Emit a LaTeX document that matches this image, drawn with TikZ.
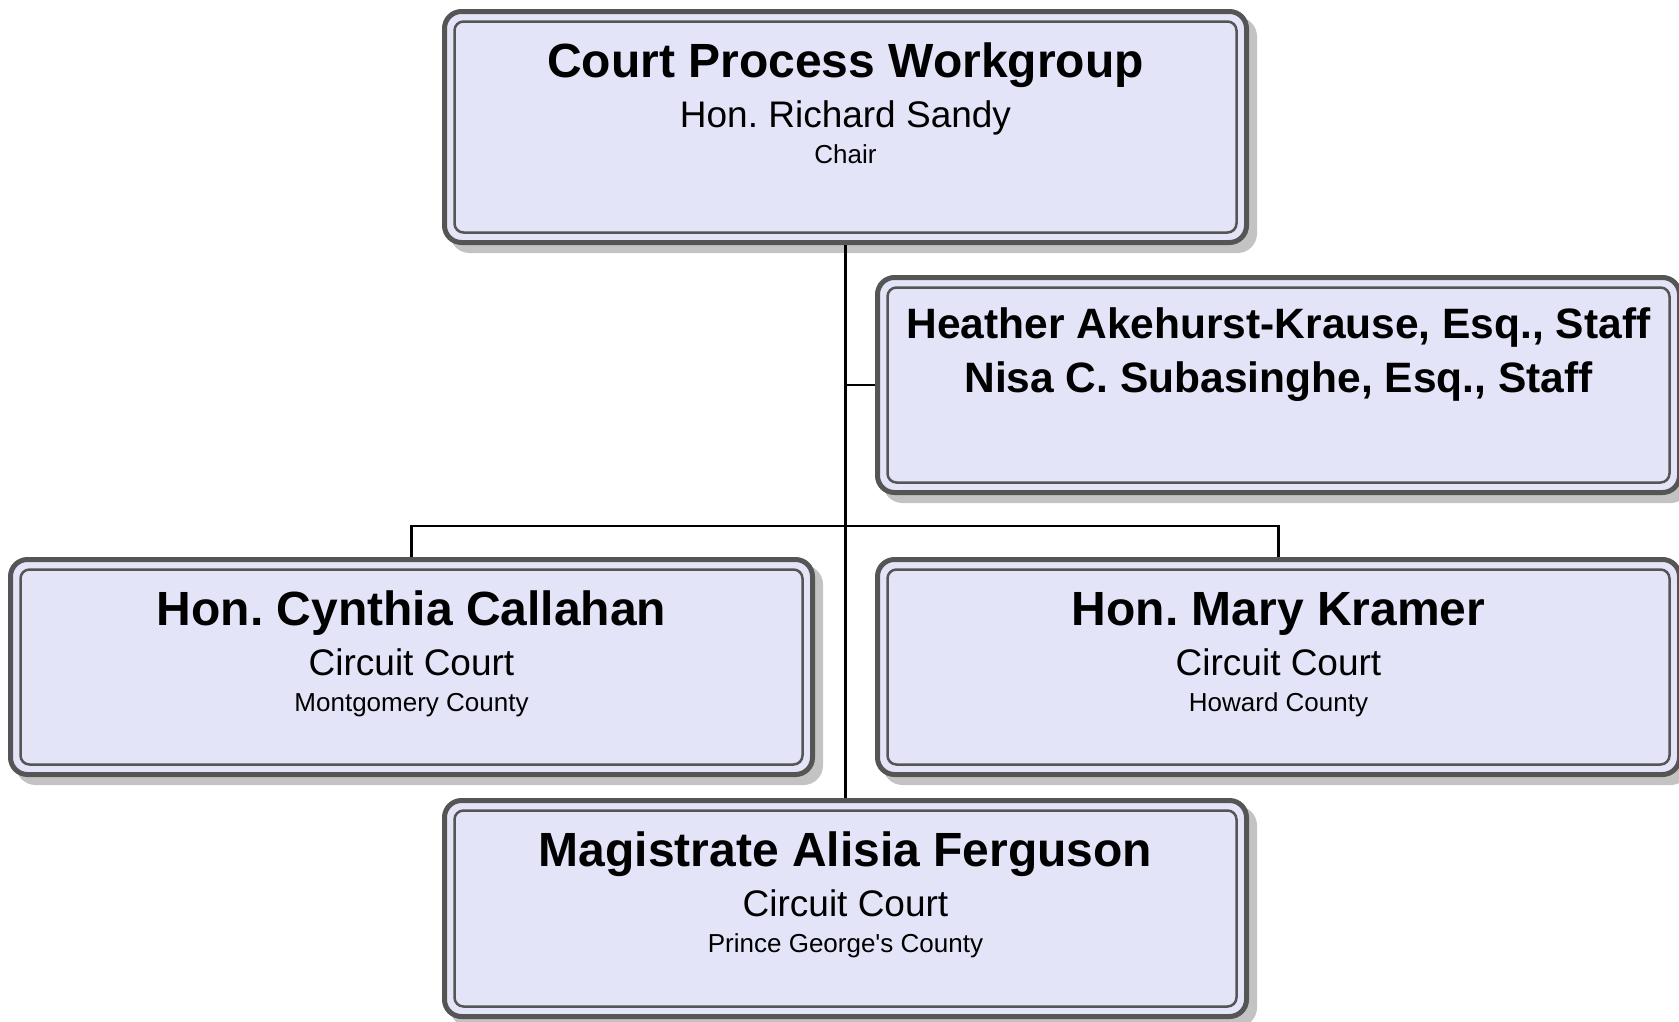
\documentclass[tikz,border=0pt]{standalone}
\usepackage{fontspec}
\setmainfont{Liberation Sans}
\usetikzlibrary{shadows}
\definecolor{boxfill}{RGB}{228,228,248}
\definecolor{boxline}{RGB}{85,85,85}
\definecolor{shadowc}{RGB}{195,195,195}
\tikzset{
  orgbox/.style={draw=boxline, line width=5pt, fill=boxfill, rounded corners=17pt,
    minimum width=802pt, minimum height=215pt, inner sep=0pt,
    drop shadow={shadow xshift=8pt, shadow yshift=-8pt, fill=shadowc, draw=shadowc, line width=5pt, opacity=1}},
  innerline/.style={draw=boxline, line width=2.5pt, rounded corners=9pt},
  conn/.style={draw=black, line width=2.5pt},
  nametext/.style={anchor=base, inner sep=0pt, font=\fontsize{48}{58}\selectfont\bfseries},
  stafftext/.style={anchor=base, inner sep=0pt, font=\fontsize{42.5}{50}\selectfont\bfseries},
  roletext/.style={anchor=base, inner sep=0pt, font=\fontsize{37}{44}\selectfont},
  placetext/.style={anchor=base, inner sep=0pt, font=\fontsize{26}{31}\selectfont},
}
\newcommand{\innerframe}[1]{\draw[innerline] ([xshift=12.5pt,yshift=-12.5pt]#1.north west) rectangle ([xshift=-12.5pt,yshift=12.5pt]#1.south east);}
\frenchspacing
\begin{document}
\begin{tikzpicture}[x=1pt,y=-1pt]
\useasboundingbox (0,0) rectangle (1679,1021);
% boxes
\node[orgbox, minimum height=231pt] (top) at (845.5,127) {};
\node[orgbox] (staff) at (1278.5,385) {};
\node[orgbox] (left) at (411.5,667) {};
\node[orgbox] (right) at (1278.5,667) {};
\node[orgbox, minimum height=216pt] (bot) at (845.5,908.5) {};
\innerframe{top}
\innerframe{staff}
\innerframe{left}
\innerframe{right}
\innerframe{bot}
% connectors
\coordinate (bar) at (845.5,526);
\draw[conn] (top.south) -- (bot.north);
\draw[conn] (top.south |- staff.west) -- (staff.west);
\draw[conn] (left.north) |- (bar) -| (right.north);
% texts
\node[nametext] (t1) at (845.5,77) {Court Process Workgroup};
\node[roletext] (t2) at (845.5,127) {Hon. Richard Sandy};
\node[placetext] (t3) at (845.5,163) {Chair};
\node[stafftext] (s1) at (1278.5,338) {Heather Akehurst-Krause, Esq., Staff};
\node[stafftext] (s2) at (1278.5,392) {Nisa C. Subasinghe, Esq., Staff};
\node[nametext] (l1) at (411.5,625) {Hon. Cynthia Callahan};
\node[roletext] (l2) at (411.5,675) {Circuit Court};
\node[placetext] (l3) at (411.5,711) {Montgomery County};
\node[nametext] (r1) at (1278.5,625) {Hon. Mary Kramer};
\node[roletext] (r2) at (1278.5,675) {Circuit Court};
\node[placetext] (r3) at (1278.5,711) {Howard County};
\node[nametext] (b1) at (845.5,866) {Magistrate Alisia Ferguson};
\node[roletext] (b2) at (845.5,916) {Circuit Court};
\node[placetext] (b3) at (845.5,952) {Prince George\textquotesingle s County};
\end{tikzpicture}
\end{document}
